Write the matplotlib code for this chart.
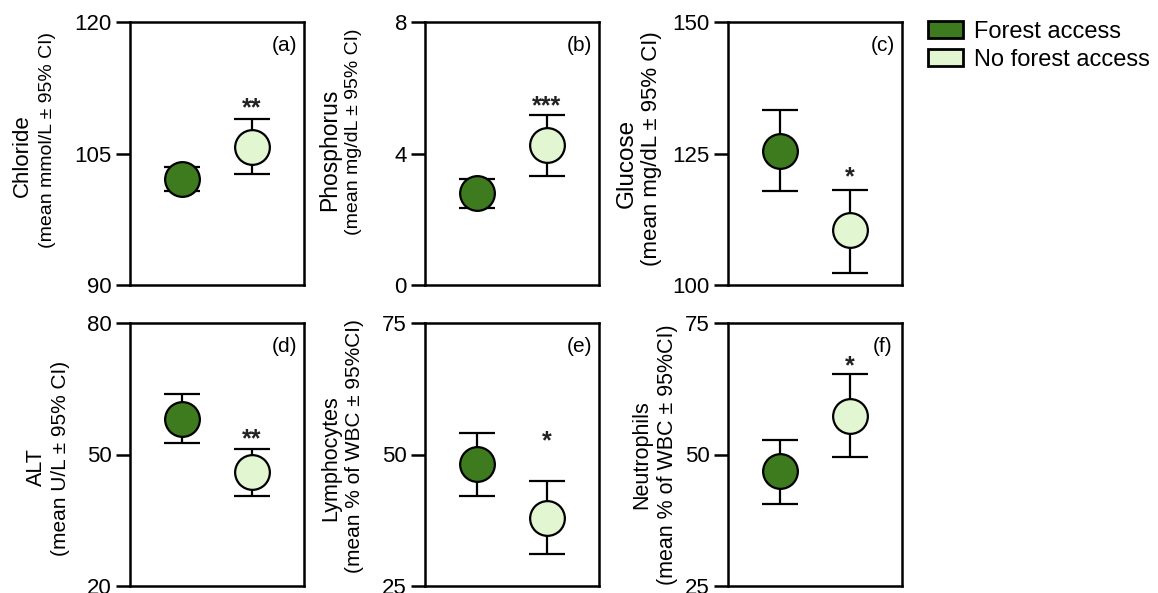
import matplotlib.pyplot as plt
from matplotlib.patches import Patch
from matplotlib.transforms import offset_copy

plt.rcParams['font.family'] = ['Liberation Sans', 'DejaVu Sans']

groups = ["Forest access", "No forest access"]
colors = ["#3e7b1e", "#e2f6d1"]
panel_tags = ["(a)", "(b)", "(c)", "(d)", "(e)", "(f)"]
label_names = ["Chloride", "Phosphorus", "Glucose", "ALT", "Lymphocytes", "Neutrophils"]
label_units = ["(mean mmol/L ± 95% CI)",
               "(mean mg/dL ± 95% CI)",
               "(mean mg/dL ± 95% CI)",
               "(mean U/L ± 95% CI)",
               "(mean % of WBC ± 95%CI)",
               "(mean % of WBC ± 95%CI)"]
y_limits = [(90, 120), (0, 8), (100, 150), (20, 80), (25, 75), (25, 75)]
y_ticks = [[90, 105, 120], [0, 4, 8], [100, 125, 150], [20, 50, 80], [25, 50, 75], [25, 50, 75]]

forest_mean = [102.1, 2.80, 125.5, 58.1, 48.1, 46.8]
forest_low = [100.7, 2.34, 117.9, 52.6, 42.2, 40.6]
forest_high = [103.5, 3.22, 133.2, 63.8, 54.0, 52.7]
noforest_mean = [105.7, 4.26, 110.4, 46.0, 38.0, 57.4]
noforest_low = [102.7, 3.32, 102.3, 40.5, 31.1, 49.6]
noforest_high = [108.9, 5.17, 118.1, 51.3, 45.0, 65.3]

stars = ["**", "***", "*", "**", "*", "*"]
star_y = [110.9, 5.63, 121.7, 55.1, 53.8, 68.1]

W, H = 1158, 593
fig = plt.figure(figsize=(W / 100, H / 100), dpi=100)

col_left = [130, 425, 728]
row_top = [22, 323]
aw, ah = 174, 263

# y-label line placement in pixels (x centre, y centre, size) - the two lines are not aligned
name_pos = [(22, 156, 16), (330, 150, 16.5), (627, 163, 17.5),
            (36, 467, 15.5), (331, 458, 15.5), (642, 455, 15.5)]
unit_pos = [(48, 140, 14), (354, 132, 14), (652, 149, 16),
            (61, 458, 15), (354, 446, 15), (667, 455, 15.5)]

for i in range(6):
    r, c = divmod(i, 3)
    ax = fig.add_axes([col_left[c] / W, 1 - (row_top[r] + ah) / H, aw / W, ah / H])
    means = [forest_mean[i], noforest_mean[i]]
    lows = [forest_low[i], noforest_low[i]]
    highs = [forest_high[i], noforest_high[i]]
    for j in range(2):
        ax.errorbar(j + 1, means[j], yerr=[[means[j] - lows[j]], [highs[j] - means[j]]],
                    fmt='none', ecolor='black', elinewidth=1.6, capsize=13, capthick=1.6, zorder=2)
        ax.plot(j + 1, means[j], 'o', ms=25, mfc=colors[j], mec='black', mew=1.6, zorder=3)
    # asterisk glyph sits high, so anchor at baseline and shift down
    tr = offset_copy(ax.transData, fig=fig, y=-0.55 * 18, units='points')
    ax.text(2, star_y[i], stars[i], transform=tr, ha='center', va='baseline',
            fontsize=18, fontweight='bold', color='#222222')
    ax.text(0.89, 0.91, panel_tags[i], transform=ax.transAxes, ha='center', va='center', fontsize=15)
    ax.set_xlim(0.25, 2.75)
    ax.set_ylim(*y_limits[i])
    ax.set_yticks(y_ticks[i])
    ax.set_xticks([])
    ax.tick_params(axis='y', direction='out', length=10, width=1.8, labelsize=16, pad=3)
    for s in ax.spines.values():
        s.set_linewidth(1.8)

    nx, ny, ns = name_pos[i]
    ux, uy, us = unit_pos[i]
    fig.text(nx / W, 1 - ny / H, label_names[i], rotation=90, ha='center', va='center', fontsize=ns)
    fig.text(ux / W, 1 - uy / H, label_units[i], rotation=90, ha='center', va='center', fontsize=us)

handles = [Patch(facecolor=colors[k], edgecolor='black', linewidth=2, label=groups[k]) for k in range(2)]
fig.legend(handles=handles, loc='upper left', bbox_to_anchor=(928 / W, 1 - 21 / H), frameon=False,
           fontsize=17, handlelength=1.5, handleheight=0.72, handletextpad=0.45,
           labelspacing=0.25, borderaxespad=0, borderpad=0)

fig.savefig('out.png', dpi=100)
